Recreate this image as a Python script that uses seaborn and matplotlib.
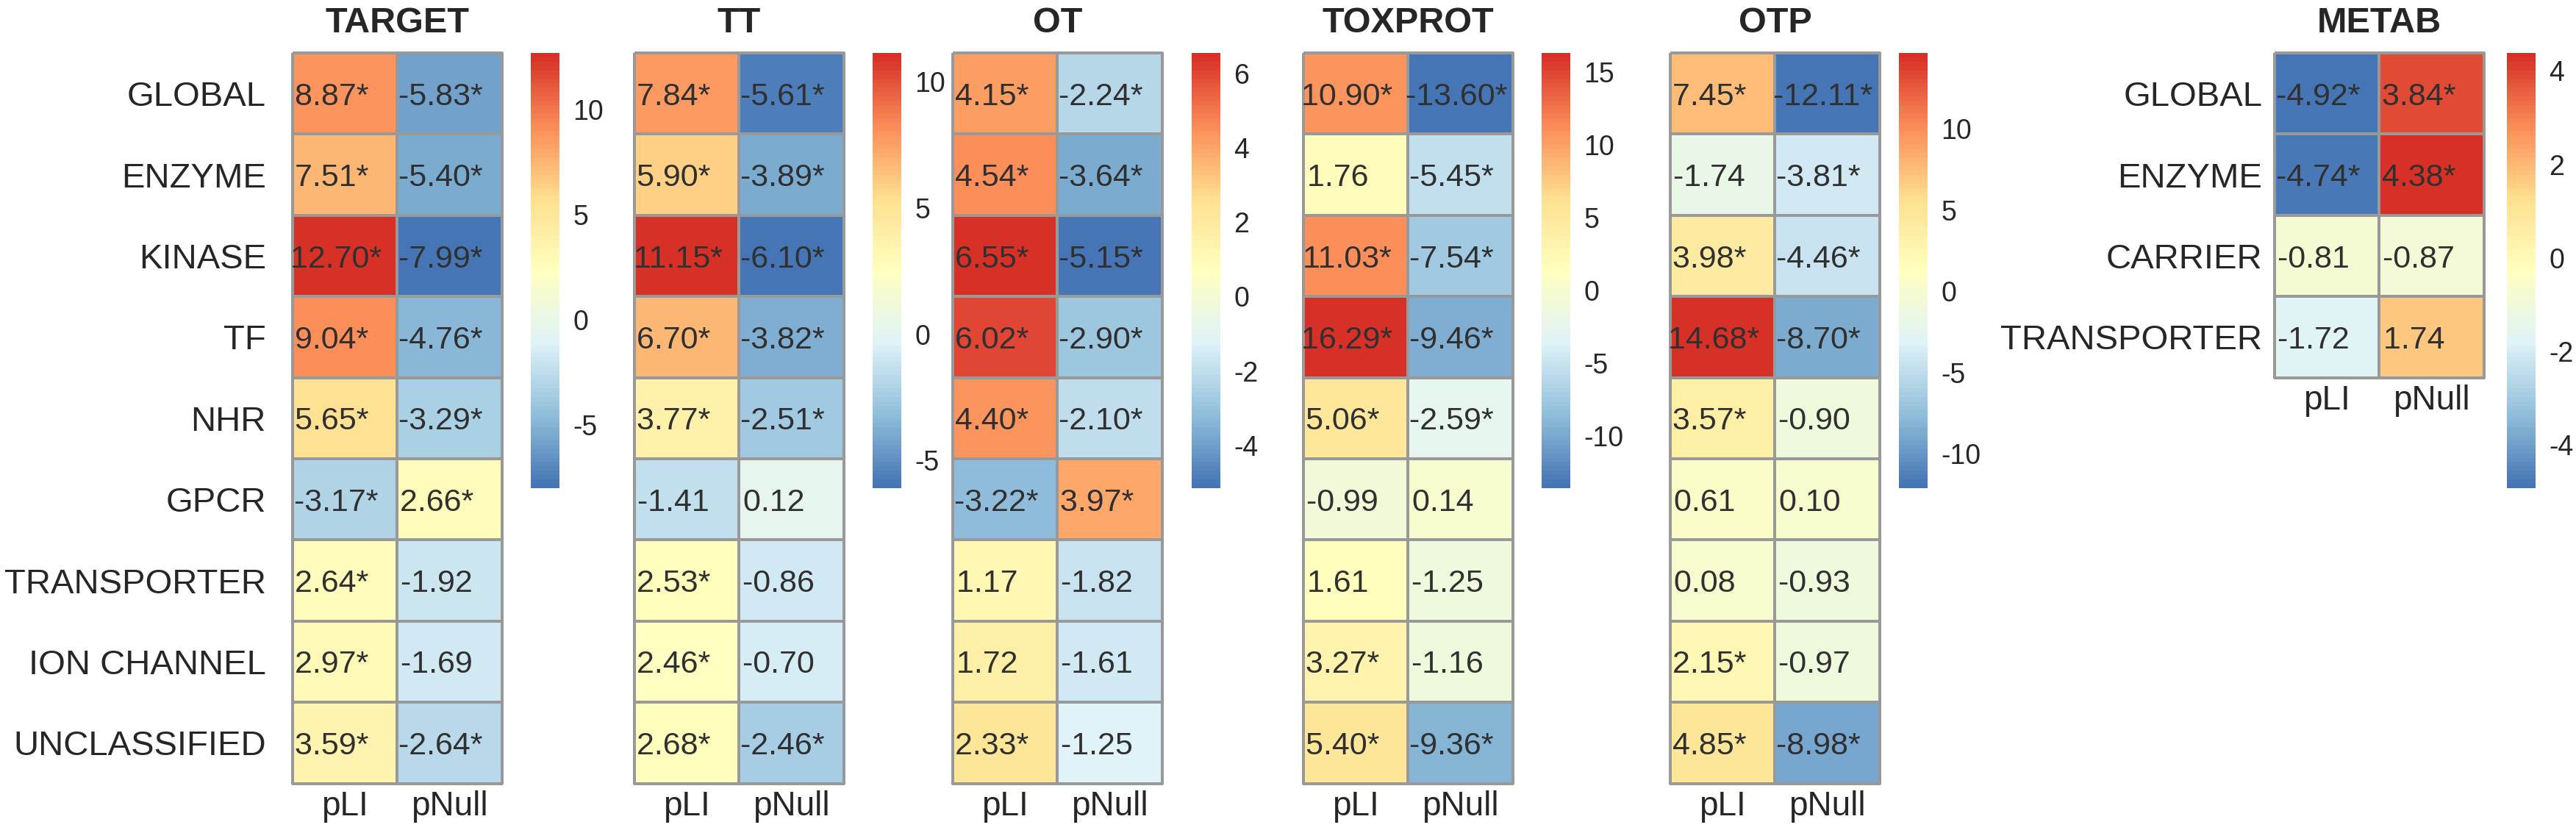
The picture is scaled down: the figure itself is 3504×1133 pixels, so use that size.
import numpy as np
import pandas as pd
import matplotlib
matplotlib.use("Agg")
import matplotlib.pyplot as plt
from matplotlib.colors import LinearSegmentedColormap, ListedColormap
import seaborn as sns

# ---- data -------------------------------------------------------------
rows_main = ["GLOBAL", "ENZYME", "KINASE", "TF", "NHR", "GPCR",
             "TRANSPORTER", "ION CHANNEL", "UNCLASSIFIED"]
rows_metab = ["GLOBAL", "ENZYME", "CARRIER", "TRANSPORTER"]
cols = ["pLI", "pNull"]

target_pli = [8.87, 7.51, 12.70, 9.04, 5.65, -3.17, 2.64, 2.97, 3.59]
target_pnull = [-5.83, -5.40, -7.99, -4.76, -3.29, 2.66, -1.92, -1.69, -2.64]
target_pli_sig = [1, 1, 1, 1, 1, 1, 1, 1, 1]
target_pnull_sig = [1, 1, 1, 1, 1, 1, 0, 0, 1]

tt_pli = [7.84, 5.90, 11.15, 6.70, 3.77, -1.41, 2.53, 2.46, 2.68]
tt_pnull = [-5.61, -3.89, -6.10, -3.82, -2.51, 0.12, -0.86, -0.70, -2.46]
tt_pli_sig = [1, 1, 1, 1, 1, 0, 1, 1, 1]
tt_pnull_sig = [1, 1, 1, 1, 1, 0, 0, 0, 1]

ot_pli = [4.15, 4.54, 6.55, 6.02, 4.40, -3.22, 1.17, 1.72, 2.33]
ot_pnull = [-2.24, -3.64, -5.15, -2.90, -2.10, 3.97, -1.82, -1.61, -1.25]
ot_pli_sig = [1, 1, 1, 1, 1, 1, 0, 0, 1]
ot_pnull_sig = [1, 1, 1, 1, 1, 1, 0, 0, 0]

toxprot_pli = [10.90, 1.76, 11.03, 16.29, 5.06, -0.99, 1.61, 3.27, 5.40]
toxprot_pnull = [-13.60, -5.45, -7.54, -9.46, -2.59, 0.14, -1.25, -1.16, -9.36]
toxprot_pli_sig = [1, 0, 1, 1, 1, 0, 0, 1, 1]
toxprot_pnull_sig = [1, 1, 1, 1, 1, 0, 0, 0, 1]

otp_pli = [7.45, -1.74, 3.98, 14.68, 3.57, 0.61, 0.08, 2.15, 4.85]
otp_pnull = [-12.11, -3.81, -4.46, -8.70, -0.90, 0.10, -0.93, -0.97, -8.98]
otp_pli_sig = [1, 0, 1, 1, 1, 0, 0, 1, 1]
otp_pnull_sig = [1, 1, 1, 1, 0, 0, 0, 0, 1]

metab_pli = [-4.92, -4.74, -0.81, -1.72]
metab_pnull = [3.84, 4.38, -0.87, 1.74]
metab_pli_sig = [1, 1, 0, 0]
metab_pnull_sig = [1, 1, 0, 0]

cbar_ticks = {
    "TARGET": [-5, 0, 5, 10],
    "TT": [-5, 0, 5, 10],
    "OT": [-4, -2, 0, 2, 4, 6],
    "TOXPROT": [-10, -5, 0, 5, 10, 15],
    "OTP": [-10, -5, 0, 5, 10],
    "METAB": [-4, -2, 0, 2, 4],
}

# ---- layout (pixels) ---------------------------------------------------
W, H = 3505, 1133
TOP = 72
ROW_H = 110.4
HM_W = 285
CB_W = 39
CB_BOTTOM = 664
# title: (heatmap left, colorbar left)
layout = {
    "TARGET": (398, 722),
    "TT": (863, 1187),
    "OT": (1296, 1621),
    "TOXPROT": (1773, 2097),
    "OTP": (2272, 2583),
    "METAB": (3094, 3410),
}

panels = [
    ("TARGET", rows_main, target_pli, target_pnull, target_pli_sig, target_pnull_sig),
    ("TT", rows_main, tt_pli, tt_pnull, tt_pli_sig, tt_pnull_sig),
    ("OT", rows_main, ot_pli, ot_pnull, ot_pli_sig, ot_pnull_sig),
    ("TOXPROT", rows_main, toxprot_pli, toxprot_pnull, toxprot_pli_sig, toxprot_pnull_sig),
    ("OTP", rows_main, otp_pli, otp_pnull, otp_pli_sig, otp_pnull_sig),
    ("METAB", rows_metab, metab_pli, metab_pnull, metab_pli_sig, metab_pnull_sig),
]

sns.set_style("white")
plt.rcParams["font.family"] = ["Liberation Sans", "DejaVu Sans"]
plt.rcParams["axes.unicode_minus"] = False

# pheatmap default palette: rev(brewer RdYlBu 7) ramped to 100 colours
ramp = LinearSegmentedColormap.from_list(
    "rdylbu", ["#4575B4", "#91BFDB", "#E0F3F8", "#FFFFBF",
               "#FEE090", "#FC8D59", "#D73027"])
pal = ListedColormap(ramp(np.linspace(0, 1, 100)))


def cell_label(v, star):
    # padded like R's format(): trailing spaces keep the text left-ish in the cell
    return (f"{v:.2f}" + ("*" if star else "")).ljust(8)


def px_axes(fig, x0, x1, y0, y1):
    return fig.add_axes([x0 / W, 1 - y1 / H, (x1 - x0) / W, (y1 - y0) / H])


fig = plt.figure(figsize=(W / 100, H / 100), dpi=100)

for name, rows, pli, pnull, pli_sig, pnull_sig in panels:
    hx, cx = layout[name]
    df = pd.DataFrame({"pLI": pli, "pNull": pnull}, index=rows)
    annot = np.array([[cell_label(a, sa), cell_label(b, sb)]
                      for a, b, sa, sb in zip(pli, pnull, pli_sig, pnull_sig)])

    ax = px_axes(fig, hx, hx + HM_W, TOP, TOP + ROW_H * len(rows))
    cax = px_axes(fig, cx, cx + CB_W, TOP, CB_BOTTOM)

    sns.heatmap(df, ax=ax, cbar_ax=cax, cmap=pal,
                vmin=df.values.min(), vmax=df.values.max(),
                annot=annot, fmt="",
                annot_kws=dict(fontsize=31, color="#303030", va="center_baseline"),
                linewidths=1.6, linecolor="#999999")
    ax.collections[0].set_clip_on(False)

    ax.set_xlabel("")
    ax.set_ylabel("")
    ax.set_xticklabels(cols, rotation=0, fontsize=33)
    ax.tick_params(axis="x", length=0, pad=7)
    if name == "TARGET" or name == "METAB":
        ax.set_yticklabels(rows, rotation=0, fontsize=34, va="center_baseline")
        ax.tick_params(axis="y", length=0, pad=26 if name == "TARGET" else 12)
    else:
        ax.set_yticks([])
    ax.set_title(name, fontsize=35, fontweight="bold", pad=20)

    cb = ax.collections[0].colorbar
    cb.set_ticks(cbar_ticks[name])
    cb.set_ticklabels([str(t) for t in cbar_ticks[name]])
    cb.outline.set_visible(False)
    cb.ax.tick_params(length=0, labelsize=27, pad=13)

fig.savefig("out.png", dpi=100, facecolor="white")
